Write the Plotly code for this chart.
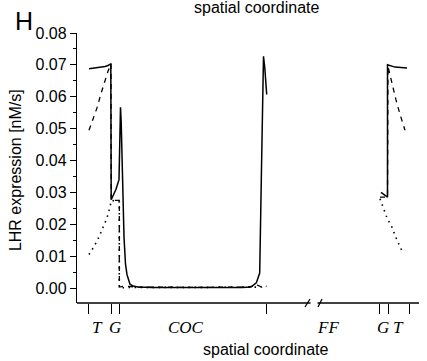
import plotly.graph_objects as go

# spatial coordinate (arbitrary units) and LHR expression [nM/s]
solid_x = [12, 18, 23, 28, 31, 33.8, 34.2, 39, 42, 42.8, 43.5, 44.2, 45, 45.8, 47, 48.5, 50, 53, 56, 61, 75,
           165, 174, 179.3, 182.7, 184.3, 185.5, 186.5, 187.8, 189.7,
           None, 304, 310.5, 310.5, 318, 330]
solid_y = [0.0688, 0.0690, 0.0692, 0.0695, 0.0698, 0.0703, 0.0277, 0.031, 0.034, 0.045, 0.0567, 0.052, 0.042,
           0.033, 0.016, 0.0075, 0.0042, 0.0012, 0.0006, 0.0003, 0.0002,
           0.0002, 0.0003, 0.0016, 0.0047, 0.034, 0.051, 0.0727, 0.069, 0.0607,
           None, 0.0300, 0.0285, 0.0700, 0.0693, 0.0690]

dash_x = [12, 16, 20, 24, 28, 31, 34, 34.2, 42.3, 42.3, 48, 60, 120, 170, 176, 178, 181, 184,
          None, 303, 310.5, 311, 315, 319, 323, 328]
dash_y = [0.0495, 0.053, 0.0565, 0.061, 0.0655, 0.068, 0.0703, 0.0275, 0.0275, 0.0003, 0.0006, 0.0003, 0.0002,
          0.0003, 0.0006, 0.0012, 0.0008, 0.0004,
          None, 0.0285, 0.0285, 0.0695, 0.064, 0.059, 0.0545, 0.0495]

dot_x = [12, 17, 22, 26, 30, 33, 34.5, 42.3, 42.3, 46, 60, 120, 180, 185, 187, 189.5,
         None, 303, 306, 310, 315, 320, 326]
dot_y = [0.0105, 0.013, 0.016, 0.019, 0.022, 0.0255, 0.0275, 0.027, 0.0001, 0.0001, 0.0002, 0.0002, 0.0002,
         0.0003, 0.0008, 0.0005,
         None, 0.028, 0.0255, 0.022, 0.019, 0.015, 0.011]

region_bounds = [11, 34.5, 42, 189, 302, 311, 332]
region_labels = ["T", "G", "COC", "FF", "G", "T"]
region_label_x = [20, 37.5, 109, 251, 306, 321]

fig = go.Figure()
fig.add_trace(go.Scatter(x=dot_x, y=dot_y, mode="lines", connectgaps=False,
                         line=dict(color="black", width=1.6, dash="1.5px,4.5px")))
fig.add_trace(go.Scatter(x=dash_x, y=dash_y, mode="lines", connectgaps=False,
                         line=dict(color="black", width=1.3, dash="5px,5px")))
fig.add_trace(go.Scatter(x=solid_x, y=solid_y, mode="lines", connectgaps=False,
                         line=dict(color="black", width=1.5)))

fig.update_layout(
    width=427, height=361,
    margin=dict(l=77, r=8, t=33, b=58),
    paper_bgcolor="white", plot_bgcolor="white",
    showlegend=False,
    font=dict(family="Liberation Sans, Arial", size=16, color="black"),
)
fig.update_xaxes(range=[0, 342], showgrid=False, zeroline=False, showline=False,
                 tickmode="array", tickvals=region_bounds, ticks="outside", ticklen=10,
                 tickwidth=1.3, tickcolor="black", showticklabels=False)
fig.update_yaxes(range=[-0.0047, 0.08], showgrid=False, zeroline=False, showline=True,
                 linecolor="black", linewidth=1.3, dtick=0.01, tick0=0, tickformat=".2f",
                 ticks="outside", ticklen=6, tickwidth=1.2, tickcolor="black",
                 tickfont=dict(size=16, color="black"),
                 minor=dict(dtick=0.005, ticks="outside", ticklen=3, tickcolor="black", tickwidth=1))

# x axis line with break
for x0, x1 in [(0, 233.5), (240.5, 342)]:
    fig.add_shape(type="line", xref="x", yref="paper", x0=x0, x1=x1, y0=0, y1=0,
                  line=dict(color="black", width=1.3))
for x0, x1 in [(228, 233), (241, 245)]:
    fig.add_shape(type="line", xref="x", yref="paper", x0=x0, x1=x1, y0=-0.015, y1=0.015,
                  line=dict(color="black", width=1.2))

for lab, lx in zip(region_labels, region_label_x):
    fig.add_annotation(x=lx, y=-0.089, xref="x", yref="paper", text=lab, showarrow=False,
                       font=dict(family="Liberation Serif, Times New Roman", size=17, color="black"),
                       xanchor="center", yanchor="middle", textangle=0,
                       )
    fig.layout.annotations[-1].text = "<i>" + lab + "</i>"

fig.add_annotation(x=0.553, y=-0.174, xref="paper", yref="paper", text="spatial coordinate",
                   showarrow=False, xanchor="center", yanchor="middle", font=dict(size=16))
fig.add_annotation(x=0.526, y=1.093, xref="paper", yref="paper", text="spatial coordinate",
                   showarrow=False, xanchor="center", yanchor="middle", font=dict(size=16))
fig.add_annotation(x=-0.178, y=0.4926, xref="paper", yref="paper", text="LHR expression [nM/s]",
                   showarrow=False, xanchor="center", yanchor="middle", textangle=-90, font=dict(size=16))
fig.add_annotation(x=-0.156, y=1.043, xref="paper", yref="paper", text="H",
                   showarrow=False, xanchor="center", yanchor="middle", font=dict(size=25))

fig.write_html("out.html")
